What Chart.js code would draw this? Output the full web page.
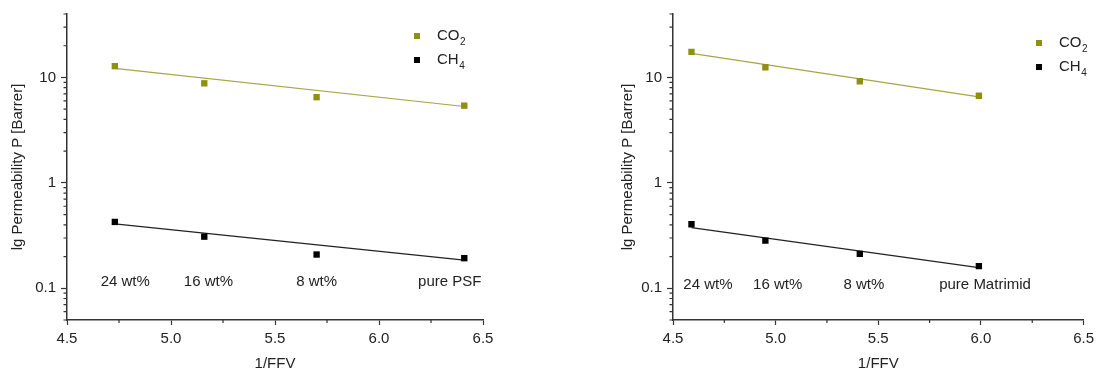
<!DOCTYPE html>
<html>
<head>
<meta charset="utf-8">
<script src="https://cdn.jsdelivr.net/npm/chart.js@4.4.0/dist/chart.umd.min.js"></script>
<style>
    body { margin: 0; background: #fff; }
    #wrap { position: relative; width: 1099px; height: 373px; overflow: hidden; }
    .box { position: absolute; top: 0; height: 373px; }
</style>
</head>
<body>
<div id="wrap">
    <div class="box" style="left:0;width:550px"><canvas id="psf-chart"></canvas></div>
    <div class="box" style="left:606px;width:493px"><canvas id="mat-chart"></canvas></div>
</div>
<script>
// PSF based membranes
const psfFFV = [4.73, 5.16, 5.70, 6.41];
const psfCO2 = [12.8, 8.8, 6.5, 5.4];
const psfCH4 = [0.426, 0.309, 0.209, 0.193];
const psfFitFFV = [4.73, 6.41];
const psfFitCO2 = [12.2, 5.3];
const psfFitCH4 = [0.408, 0.185];
const psfLabels = ['24 wt%', '16 wt%', '8 wt%', 'pure PSF'];
const psfLabelFFV = [4.78, 5.18, 5.70, 6.34];
const psfLabelLevel = 0.115;

// Matrimid based membranes
const matFFV = [4.59, 4.95, 5.41, 5.99];
const matCO2 = [17.5, 12.5, 9.2, 6.7];
const matCH4 = [0.405, 0.283, 0.212, 0.162];
const matFitFFV = [4.59, 5.99];
const matFitCO2 = [16.9, 6.55];
const matFitCH4 = [0.376, 0.157];
const matLabels = ['24 wt%', '16 wt%', '8 wt%', 'pure Matrimid'];
const matLabelFFV = [4.67, 5.01, 5.43, 6.02];
const matLabelLevel = 0.107;

// ticks
const xMajor = [4.5, 5.0, 5.5, 6.0, 6.5];
const xMinor = [4.75, 5.25, 5.75, 6.25];
const yMajor = [0.1, 1, 10];
const yMinor = [0.05, 0.06, 0.07, 0.08, 0.09, 0.2, 0.3, 0.4, 0.5, 0.6, 0.7, 0.8, 0.9,
    2, 3, 4, 5, 6, 7, 8, 9, 20, 30, 40];

const olive = '#8f8f14';
const oliveLine = '#a6a645';
const axisColor = '#333';
const textColor = '#222';
const font = { family: 'Liberation Sans, Arial, sans-serif', size: 15 };

const pts = (xs, ys) => xs.map((x, i) => ({ x: x, y: ys[i] }));

// small ticks between the labelled ones
const minorTicks = {
    id: 'minorTicks',
    afterDraw(chart) {
        const ctx = chart.ctx;
        const { x, y } = chart.scales;
        ctx.save();
        ctx.strokeStyle = axisColor;
        ctx.lineWidth = 1.2;
        ctx.beginPath();
        xMinor.forEach(v => {
            const px = x.getPixelForValue(v);
            ctx.moveTo(px, y.bottom);
            ctx.lineTo(px, y.bottom + 3);
        });
        yMinor.forEach(v => {
            const py = y.getPixelForValue(v);
            ctx.moveTo(x.left, py);
            ctx.lineTo(x.left - 3.5, py);
        });
        ctx.stroke();
        ctx.restore();
    }
};

// membrane names written under the points
const loadingLabels = {
    id: 'loadingLabels',
    afterDraw(chart, args, opts) {
        const ctx = chart.ctx;
        const { x, y } = chart.scales;
        ctx.save();
        ctx.font = font.size + 'px ' + font.family;
        ctx.fillStyle = textColor;
        ctx.textAlign = 'center';
        ctx.textBaseline = 'middle';
        opts.texts.forEach((t, i) => {
            ctx.fillText(t, x.getPixelForValue(opts.xs[i]), y.getPixelForValue(opts.level));
        });
        ctx.restore();
    }
};

// legend with subscripts, CO2 -> CO + small 2
const gasLegend = {
    id: 'gasLegend',
    afterDraw(chart, args, opts) {
        const ctx = chart.ctx;
        ctx.save();
        opts.items.forEach((dsIndex, i) => {
            const ds = chart.data.datasets[dsIndex];
            const cy = opts.y + i * opts.gap;
            ctx.fillStyle = ds.backgroundColor;
            ctx.fillRect(opts.x - 3, cy - 3, 6, 6);
            const main = ds.label.slice(0, -1);
            const sub = ds.label.slice(-1);
            ctx.fillStyle = textColor;
            ctx.textBaseline = 'middle';
            ctx.textAlign = 'left';
            ctx.font = font.size + 'px ' + font.family;
            ctx.fillText(main, opts.x + 20, cy);
            const w = ctx.measureText(main).width;
            ctx.font = '10px ' + font.family;
            ctx.fillText(sub, opts.x + 20 + w + 0.5, cy + 6);
        });
        ctx.restore();
    }
};

function makeChart(id, d) {
    return new Chart(document.getElementById(id), {
        type: 'scatter',
        data: {
            datasets: [
                {
                    label: 'CO2', data: pts(d.ffv, d.co2),
                    backgroundColor: olive, borderColor: olive,
                    pointStyle: 'rect', pointRadius: 4.5, pointBorderWidth: 0
                },
                {
                    label: 'CH4', data: pts(d.ffv, d.ch4),
                    backgroundColor: '#000', borderColor: '#000',
                    pointStyle: 'rect', pointRadius: 4.5, pointBorderWidth: 0
                },
                {
                    label: 'CO2 fit', data: pts(d.fitFFV, d.fitCO2), showLine: true,
                    borderColor: oliveLine, borderWidth: 1.2, pointRadius: 0
                },
                {
                    label: 'CH4 fit', data: pts(d.fitFFV, d.fitCH4), showLine: true,
                    borderColor: '#222', borderWidth: 1.2, pointRadius: 0
                }
            ]
        },
        options: {
            responsive: true,
            maintainAspectRatio: false,
            animation: false,
            layout: { padding: { left: 0, right: d.padRight, top: 14, bottom: 0 } },
            plugins: {
                legend: { display: false },
                tooltip: { enabled: false },
                gasLegend: { items: [0, 1], x: d.legX, y: d.legY, gap: 24 },
                loadingLabels: { texts: d.labels, xs: d.labelFFV, level: d.labelLevel }
            },
            scales: {
                x: {
                    type: 'linear', min: 4.5, max: 6.5,
                    afterBuildTicks: s => { s.ticks = xMajor.map(v => ({ value: v })); },
                    afterFit: s => { s.height = 53; },
                    ticks: { color: textColor, font: font, padding: 5, maxRotation: 0,
                        callback: v => v.toFixed(1) },
                    grid: { drawOnChartArea: false, tickLength: 5, color: axisColor, tickWidth: 1.2 },
                    border: { color: axisColor, width: 1.5 },
                    title: { display: true, text: '1/FFV', color: textColor, font: font,
                        padding: { top: 0, bottom: 0 } }
                },
                y: {
                    type: 'logarithmic', min: 0.05, max: 40,
                    afterBuildTicks: s => { s.ticks = yMajor.map(v => ({ value: v })); },
                    afterFit: s => { s.width = 67; },
                    ticks: { color: textColor, font: font, padding: 5,
                        callback: v => String(v) },
                    grid: { drawOnChartArea: false, tickLength: 6, color: axisColor, tickWidth: 1.2 },
                    border: { color: axisColor, width: 1.5 },
                    title: { display: true, text: 'lg Permeability P [Barrer]', color: textColor, font: font,
                        padding: { top: d.titlePad, bottom: 0 } }
                }
            }
        },
        plugins: [minorTicks, loadingLabels, gasLegend]
    });
}

makeChart('psf-chart', {
    ffv: psfFFV, co2: psfCO2, ch4: psfCH4,
    fitFFV: psfFitFFV, fitCO2: psfFitCO2, fitCH4: psfFitCH4,
    labels: psfLabels, labelFFV: psfLabelFFV, labelLevel: psfLabelLevel,
    padRight: 67, legX: 417, legY: 36, titlePad: 9
});

makeChart('mat-chart', {
    ffv: matFFV, co2: matCO2, ch4: matCH4,
    fitFFV: matFitFFV, fitCO2: matFitCO2, fitCH4: matFitCH4,
    labels: matLabels, labelFFV: matLabelFFV, labelLevel: matLabelLevel,
    padRight: 10, legX: 433, legY: 43, titlePad: 12.5
});
</script>
</body>
</html>
